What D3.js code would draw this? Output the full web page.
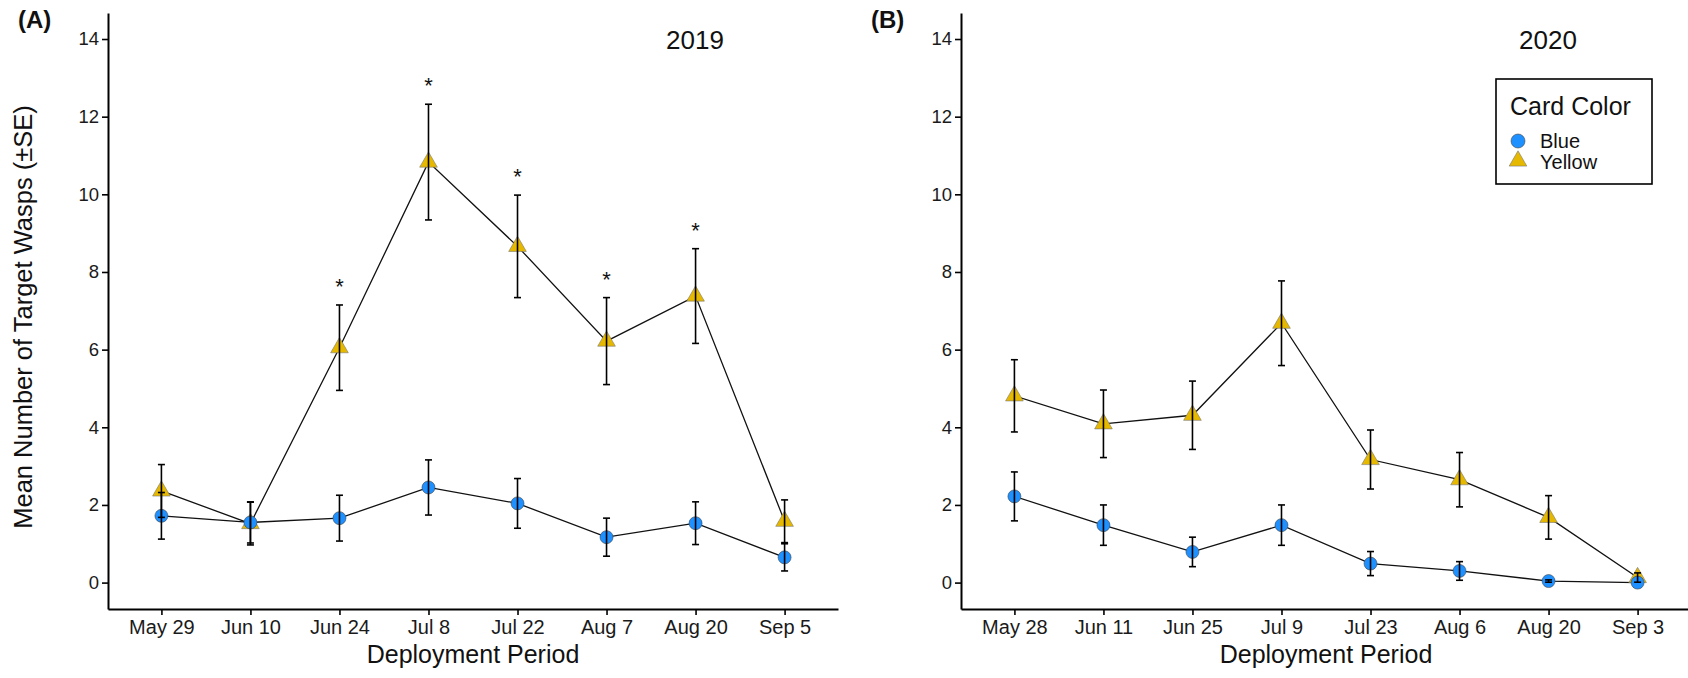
<!DOCTYPE html>
<html>
<head>
<meta charset="utf-8">
<script src="https://cdn.jsdelivr.net/npm/d3@7.9.0/dist/d3.min.js"></script>
<style>
  body { margin: 0; background: #fff; }
  svg { display: block; font-family: "Liberation Sans", Arial, sans-serif; }
</style>
</head>
<body>
<svg id="chart" width="1688" height="678"></svg>
<script>
// 2019 deployment periods
const dates2019 = ['May 29', 'Jun 10', 'Jun 24', 'Jul 8', 'Jul 22', 'Aug 7', 'Aug 20', 'Sep 5'];
const blue2019 = [1.72, 1.55, 1.66, 2.45, 2.04, 1.17, 1.53, 0.65];
const blueSe2019 = [0.60, 0.53, 0.59, 0.71, 0.64, 0.49, 0.55, 0.35];
const yellow2019 = [2.36, 1.52, 6.05, 10.83, 8.66, 6.22, 7.38, 1.58];
const yellowSe2019 = [0.68, 0.55, 1.10, 1.49, 1.32, 1.12, 1.22, 0.55];
const sig2019 = [false, false, true, true, true, true, true, false];

// 2020 deployment periods
const dates2020 = ['May 28', 'Jun 11', 'Jun 25', 'Jul 9', 'Jul 23', 'Aug 6', 'Aug 20', 'Sep 3'];
const blue2020 = [2.22, 1.48, 0.79, 1.48, 0.49, 0.30, 0.04, 0.00];
const blueSe2020 = [0.63, 0.52, 0.38, 0.52, 0.31, 0.24, 0.03, 0.00];
const yellow2020 = [4.81, 4.09, 4.31, 6.68, 3.17, 2.65, 1.68, 0.13];
const yellowSe2020 = [0.93, 0.87, 0.88, 1.09, 0.76, 0.70, 0.56, 0.12];
const sig2020 = [false, false, false, false, false, false, false, false];

const yTicks = [0, 2, 4, 6, 8, 10, 12, 14];
const blueFill = '#1E90FF';
const yellowFill = '#E6B800';

const svg = d3.select('#chart');
const plotTop = 13, plotBottom = 609, plotW = 730;

const y = d3.scaleLinear().domain([-0.68, 14.67]).range([plotBottom, plotTop]);

function drawPanel(left, dates, blue, blueSe, yellow, yellowSe, sig, year, tag) {
  const g = svg.append('g');
  const x = d3.scalePoint().domain(dates).range([left, left + plotW]).padding(0.6);

  // axes
  const xAxis = g.append('g')
    .attr('transform', `translate(0,${plotBottom})`)
    .call(d3.axisBottom(x).tickSize(6).tickPadding(5).tickSizeOuter(0));
  const yAxis = g.append('g')
    .attr('transform', `translate(${left},0)`)
    .call(d3.axisLeft(y).tickValues(yTicks).tickSize(6).tickPadding(3).tickSizeOuter(0));
  [xAxis, yAxis].forEach(a => {
    a.select('.domain').attr('stroke', '#000').attr('stroke-width', 2);
    a.selectAll('.tick line').attr('stroke', '#000').attr('stroke-width', 1.6);
  });
  xAxis.selectAll('.tick text').attr('font-size', 20).attr('fill', '#1a1a1a').attr('font-family', null);
  yAxis.selectAll('.tick text').attr('font-size', 18.5).attr('fill', '#1a1a1a').attr('font-family', null);

  g.append('text')
    .attr('x', left + plotW / 2).attr('y', 663)
    .attr('text-anchor', 'middle').attr('font-size', 25).attr('fill', '#111')
    .text('Deployment Period');

  g.append('text')
    .attr('x', left + 587).attr('y', 49)
    .attr('text-anchor', 'middle').attr('font-size', 26).attr('fill', '#111')
    .text(year);

  g.append('text')
    .attr('x', left - 90).attr('y', 28)
    .attr('font-size', 24).attr('font-weight', 'bold').attr('fill', '#111')
    .text(tag);

  const series = [
    { mean: yellow, se: yellowSe, shape: 'tri' },
    { mean: blue, se: blueSe, shape: 'circle' }
  ];

  const line = d3.line().x((d, i) => x(dates[i])).y(d => y(d));
  series.forEach(s => {
    g.append('path')
      .attr('d', line(s.mean))
      .attr('fill', 'none').attr('stroke', '#111').attr('stroke-width', 1.3);
  });

  series.forEach(s => {
    s.mean.forEach((v, i) => {
      if (s.shape === 'circle') {
        g.append('circle')
          .attr('cx', x(dates[i])).attr('cy', y(v)).attr('r', 6.5)
          .attr('fill', blueFill).attr('stroke', '#444').attr('stroke-width', 0.6);
      } else {
        g.append('path')
          .attr('d', d3.symbol().type(d3.symbolTriangle).size(135)())
          .attr('transform', `translate(${x(dates[i])},${y(v)})`)
          .attr('fill', yellowFill).attr('stroke', '#777').attr('stroke-width', 0.6);
      }
    });
  });

  // error bars over the points
  series.forEach(s => {
    s.mean.forEach((v, i) => {
      if (s.se[i] <= 0.02) return;
      const cx = x(dates[i]);
      const y1 = y(v + s.se[i]), y0 = y(v - s.se[i]);
      const eb = g.append('g').attr('stroke', '#000').attr('stroke-width', 1.6);
      eb.append('line').attr('x1', cx).attr('x2', cx).attr('y1', y1).attr('y2', y0);
      eb.append('line').attr('x1', cx - 3.5).attr('x2', cx + 3.5).attr('y1', y1).attr('y2', y1);
      eb.append('line').attr('x1', cx - 3.5).attr('x2', cx + 3.5).attr('y1', y0).attr('y2', y0);
    });
  });

  // significance stars
  sig.forEach((isSig, i) => {
    if (!isSig) return;
    g.append('text')
      .attr('x', x(dates[i])).attr('y', y(yellow[i] + yellowSe[i]) - 11)
      .attr('text-anchor', 'middle').attr('font-size', 22).attr('fill', '#111')
      .text('*');
  });

  return g;
}

drawPanel(108, dates2019, blue2019, blueSe2019, yellow2019, yellowSe2019, sig2019, '2019', '(A)');
const right = drawPanel(961, dates2020, blue2020, blueSe2020, yellow2020, yellowSe2020, sig2020, '2020', '(B)');

// y axis title (left panel only)
svg.append('text')
  .attr('transform', 'translate(32,317) rotate(-90)')
  .attr('text-anchor', 'middle').attr('font-size', 25.5).attr('fill', '#111')
  .text('Mean Number of Target Wasps (\u00B1SE)');

// legend in the 2020 panel
const legend = right.append('g');
legend.append('rect')
  .attr('x', 1496).attr('y', 79).attr('width', 156).attr('height', 105)
  .attr('fill', '#fff').attr('stroke', '#000').attr('stroke-width', 1.6);
legend.append('text')
  .attr('x', 1510).attr('y', 115).attr('font-size', 25).attr('fill', '#111')
  .text('Card Color');
legend.append('circle')
  .attr('cx', 1518).attr('cy', 141).attr('r', 7)
  .attr('fill', blueFill).attr('stroke', '#444').attr('stroke-width', 0.6);
legend.append('path')
  .attr('d', d3.symbol().type(d3.symbolTriangle).size(135)())
  .attr('transform', 'translate(1518,161)')
  .attr('fill', yellowFill).attr('stroke', '#777').attr('stroke-width', 0.6);
legend.append('text').attr('x', 1540).attr('y', 148).attr('font-size', 20).attr('fill', '#111').text('Blue');
legend.append('text').attr('x', 1540).attr('y', 169).attr('font-size', 20).attr('fill', '#111').text('Yellow');
</script>
</body>
</html>
